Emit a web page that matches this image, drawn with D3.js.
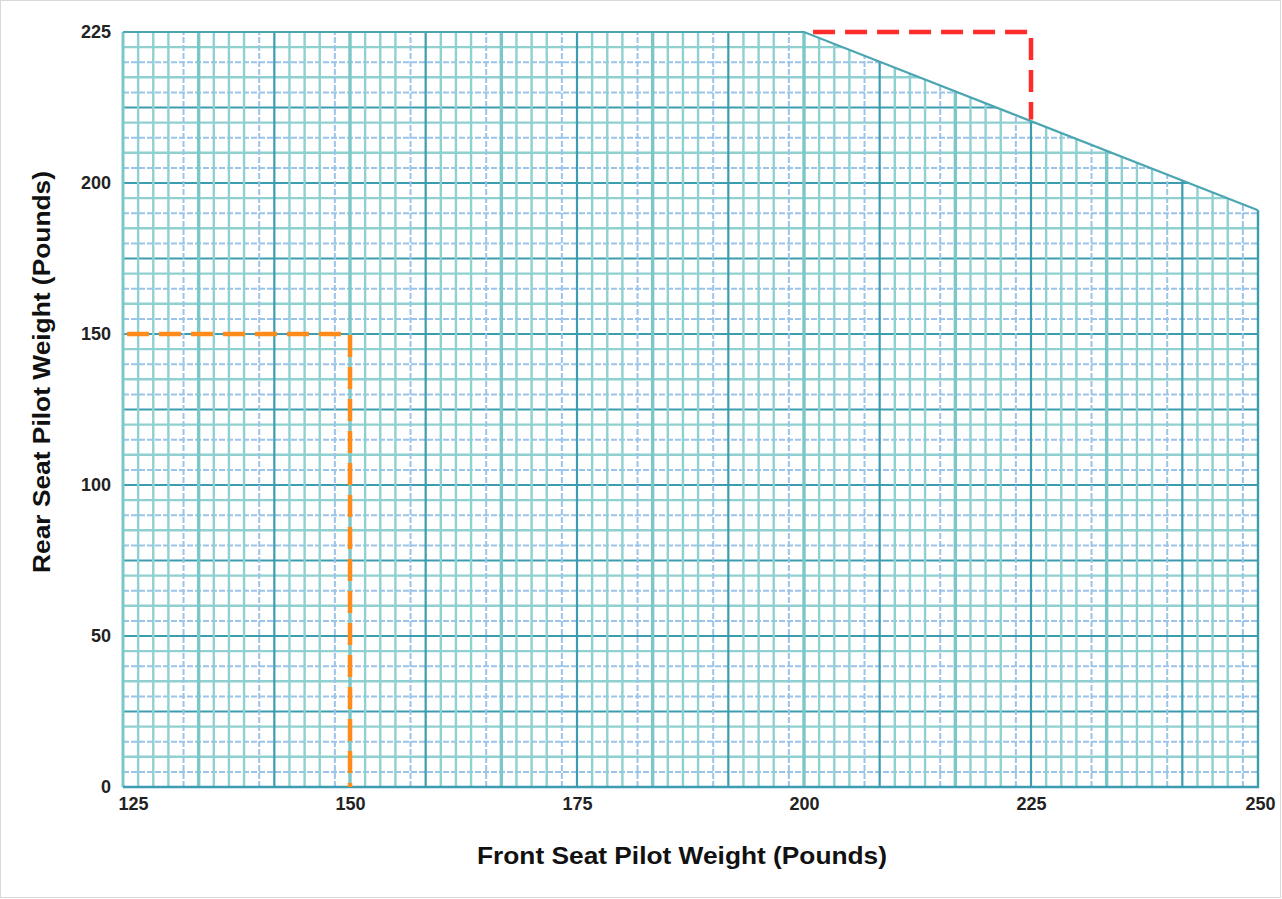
<!DOCTYPE html>
<html>
<head>
<meta charset="utf-8">
<script src="https://cdn.jsdelivr.net/npm/d3@7/dist/d3.min.js"></script>
<style>
  html, body { margin: 0; padding: 0; background: #fff; }
  svg { display: block; }
  text { font-family: "Liberation Sans", Arial, Helvetica, sans-serif; }
</style>
</head>
<body>
<script>
// ---- Data ----
const xTickValues = [125, 150, 175, 200, 225, 250];
const yTickValues = [0, 50, 100, 150, 200, 225];
// envelope boundary (front weight, rear weight)
const envelopeX = [125, 125, 200, 250, 250];
const envelopeY = [0, 225, 225, 191, 0];
// orange example path
const orangeX = [125, 150, 150];
const orangeY = [150, 150, 0];
// red example path
const redX = [201, 225, 225];
const redY = [225, 225, 210.5];
const xTitle = "Front Seat Pilot Weight (Pounds)";
const yTitle = "Rear Seat Pilot Weight (Pounds)";

// ---- Layout ----
const W = 1282, H = 899;
const svg = d3.select("body").append("svg").attr("width", W).attr("height", H);

const x = d3.scaleLinear().domain([125, 250]).range([123, 1258]);
const y = d3.scaleLinear().domain([0, 200, 225]).range([787, 183, 32]);

// grid index scales (5 minor per major block)
const gx = d3.scaleLinear().domain([0, 75]).range([x(125), x(250)]);
const gy = d3.scaleLinear().domain([0, 50]).range([y(0), y(225)]);

// frame
svg.append("rect").attr("x", 0.5).attr("y", 0.5).attr("width", W - 2).attr("height", H - 2)
  .attr("fill", "none").attr("stroke", "#b0b0b0").attr("stroke-width", 1).attr("stroke-dasharray", "1,1");

const envPts = envelopeX.map((v, i) => [x(v), y(envelopeY[i])]);
const envLine = d3.line();

svg.append("clipPath").attr("id", "env").append("path").attr("d", envLine(envPts) + "Z");

const grid = svg.append("g").attr("clip-path", "url(#env)");

const minorCol = "#8fd0d0";
const dashCol = "#9cc4e8";
// horizontal grid
d3.range(1, 50).forEach(i => {
  const k = i % 5;
  const yy = gy(i);
  const l = grid.append("line").attr("x1", x(125)).attr("x2", x(250)).attr("y1", yy).attr("y2", yy);
  if (k === 0) l.attr("stroke", "#3c9db0").attr("stroke-width", 2.2);
  else if (k === 1 || k === 3) l.attr("stroke", dashCol).attr("stroke-width", 2).attr("stroke-dasharray", "6,2");
  else l.attr("stroke", minorCol).attr("stroke-width", 2.4);
});
// vertical grid
d3.range(1, 75).forEach(i => {
  const k = i % 5;
  const xx = gx(i);
  const l = grid.append("line").attr("x1", xx).attr("x2", xx).attr("y1", y(0)).attr("y2", y(225));
  if (k === 0) {
    if ((i / 5) % 2 === 1) l.attr("stroke", "#7cc8c8").attr("stroke-width", 3.4);
    else l.attr("stroke", "#3c9db0").attr("stroke-width", 2.2);
  } else if (k === 4) l.attr("stroke", dashCol).attr("stroke-width", 2).attr("stroke-dasharray", "6,2");
  else l.attr("stroke", minorCol).attr("stroke-width", 2.4);
});

// envelope outline
svg.append("path").attr("d", envLine([envPts[0], envPts[1]]))
  .attr("fill", "none").attr("stroke", "#7cc8c8").attr("stroke-width", 3);
svg.append("path").attr("d", envLine([envPts[1], envPts[2], envPts[3]]))
  .attr("fill", "none").attr("stroke", "#4ba6b2").attr("stroke-width", 2.2);
svg.append("path").attr("d", envLine([envPts[3], envPts[4], envPts[0]]))
  .attr("fill", "none").attr("stroke", "#3c9db0").attr("stroke-width", 2.4);

// dashed example lines
svg.append("path").attr("d", envLine(orangeX.map((v, i) => [x(v), y(orangeY[i])])))
  .attr("fill", "none").attr("stroke", "#ff8c1a").attr("stroke-width", 4.5)
  .attr("stroke-dasharray", "22,10").attr("stroke-dashoffset", -4);
svg.append("path").attr("d", envLine(redX.map((v, i) => [x(v), y(redY[i])])))
  .attr("fill", "none").attr("stroke", "#ff2a2a").attr("stroke-width", 4.5)
  .attr("stroke-dasharray", "22,10");

// axes
const xAxis = svg.append("g").attr("transform", `translate(0,${y(0) + 10})`)
  .call(d3.axisBottom(x).tickValues(xTickValues).tickSize(0).tickPadding(0).tickFormat(d3.format("d")));
xAxis.select(".domain").remove();
xAxis.selectAll("text")
  .attr("font-size", 18).attr("font-weight", "bold").attr("fill", "#222")
  .attr("font-family", "'Liberation Sans', Arial, sans-serif")
  .attr("dx", (d, i) => i === 0 ? 10 : (i === xTickValues.length - 1 ? 2 : 0));

const yAxis = svg.append("g").attr("transform", `translate(${x(125) - 12},0)`)
  .call(d3.axisLeft(y).tickValues(yTickValues).tickSize(0).tickPadding(0).tickFormat(d3.format("d")));
yAxis.select(".domain").remove();
yAxis.selectAll("text")
  .attr("font-size", 18).attr("font-weight", "bold").attr("fill", "#222")
  .attr("font-family", "'Liberation Sans', Arial, sans-serif");

// titles
svg.append("text").attr("x", 682).attr("y", 864).attr("text-anchor", "middle")
  .attr("font-size", 24).attr("font-weight", "bold").attr("fill", "#111")
  .attr("textLength", 410).attr("lengthAdjust", "spacingAndGlyphs")
  .text(xTitle);
svg.append("text").attr("transform", "translate(50,372) rotate(-90)").attr("text-anchor", "middle")
  .attr("font-size", 24).attr("font-weight", "bold").attr("fill", "#111")
  .attr("textLength", 402).attr("lengthAdjust", "spacingAndGlyphs")
  .text(yTitle);
</script>
</body>
</html>
